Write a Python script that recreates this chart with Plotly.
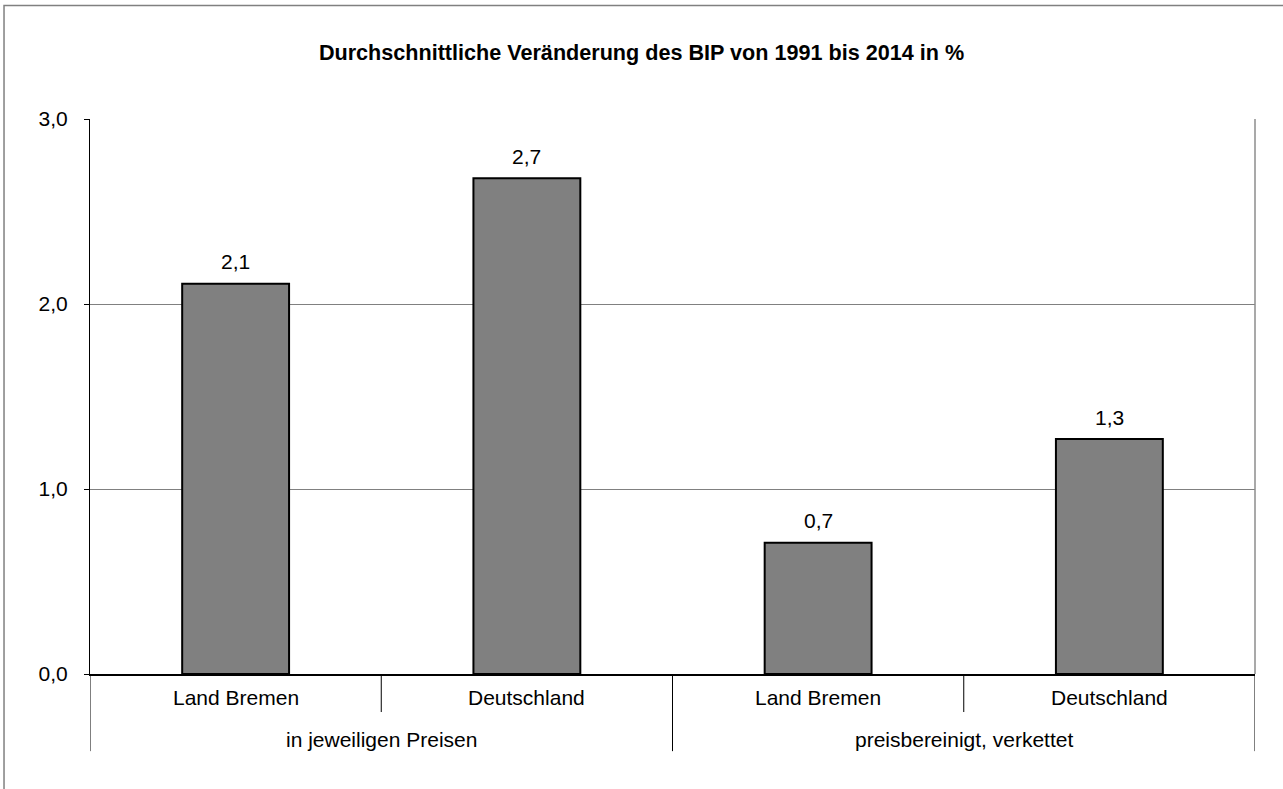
import plotly.graph_objects as go

categories = ["Land Bremen", "Deutschland", "Land Bremen", "Deutschland"]
groups = ["in jeweiligen Preisen", "preisbereinigt, verkettet"]
values = [2.11, 2.68, 0.71, 1.27]
value_labels = ["2,1", "2,7", "0,7", "1,3"]
ytick_vals = [0, 1, 2, 3]
ytick_text = ["0,0", "1,0", "2,0", "3,0"]
title = "Durchschnittliche Veränderung des BIP von 1991 bis 2014 in %"

FONT = "Arial, Liberation Sans, sans-serif"
FS = 21
xs = list(range(len(categories)))

fig = go.Figure()
fig.add_trace(go.Bar(
    x=xs, y=values, width=0.367,
    marker=dict(color="#808080", line=dict(color="black", width=2)),
    hoverinfo="skip", showlegend=False,
))

annotations = []
for x, v, t in zip(xs, values, value_labels):
    annotations.append(dict(x=x, y=v, text=t, showarrow=False, yanchor="middle",
                            yshift=22, font=dict(family=FONT, size=FS, color="black")))
for x, c in zip(xs, categories):
    annotations.append(dict(x=x, y=-0.043, yref="paper", text=c, showarrow=False,
                            yanchor="middle", font=dict(family=FONT, size=FS, color="black")))
for gi, g in enumerate(groups):
    annotations.append(dict(x=gi * 2 + 0.5, y=-0.118, yref="paper", text=g, showarrow=False,
                            yanchor="middle", font=dict(family=FONT, size=FS, color="black")))

shapes = []
# outer frame
shapes.append(dict(type="rect", xref="paper", yref="paper", x0=-0.0738, x1=1.2, y0=-0.6, y1=1.2045,
                   line=dict(color="#808080", width=1.5), layer="below"))
# plot-area right border
shapes.append(dict(type="line", xref="paper", yref="paper", x0=1, x1=1, y0=0, y1=1,
                   line=dict(color="#8c8c8c", width=1.5)))
# short dividers between categories within group
for d in [0.5, 2.5]:
    shapes.append(dict(type="line", xref="x", yref="paper", x0=d, x1=d, y0=0, y1=-0.0685,
                       line=dict(color="black", width=1)))
# long dividers between groups
for d in [-0.5, 1.5, 3.5]:
    shapes.append(dict(type="line", xref="x", yref="paper", x0=d, x1=d, y0=0, y1=-0.139,
                       line=dict(color="black", width=1)))

fig.update_layout(
    width=1283, height=789,
    margin=dict(l=90, r=28, t=119, b=115),
    paper_bgcolor="white", plot_bgcolor="white",
    title=dict(text="<b>" + title + "</b>", x=0.5, xanchor="center", y=1 - 52 / 789, yanchor="middle",
               font=dict(family=FONT, size=21.6, color="black")),
    font=dict(family=FONT, size=FS, color="black"),
    bargap=0.63,
    xaxis=dict(range=[-0.5, 3.5], showticklabels=False, ticks="", showgrid=False,
               showline=True, linecolor="black", linewidth=2, zeroline=False, fixedrange=True),
    yaxis=dict(range=[0, 3], tickvals=ytick_vals, ticktext=ytick_text, ticks="outside",
               ticklen=5, tickcolor="black", showgrid=True, gridcolor="#808080", gridwidth=1,
               showline=True, linecolor="black", linewidth=1, zeroline=False,
               ticklabelstandoff=12, tickfont=dict(family=FONT, size=FS, color="black"),
               fixedrange=True),
    annotations=annotations,
    shapes=shapes,
)

fig.write_html("out.html", config={"displayModeBar": False, "staticPlot": True},
               post_script="document.body.style.margin='0';")
